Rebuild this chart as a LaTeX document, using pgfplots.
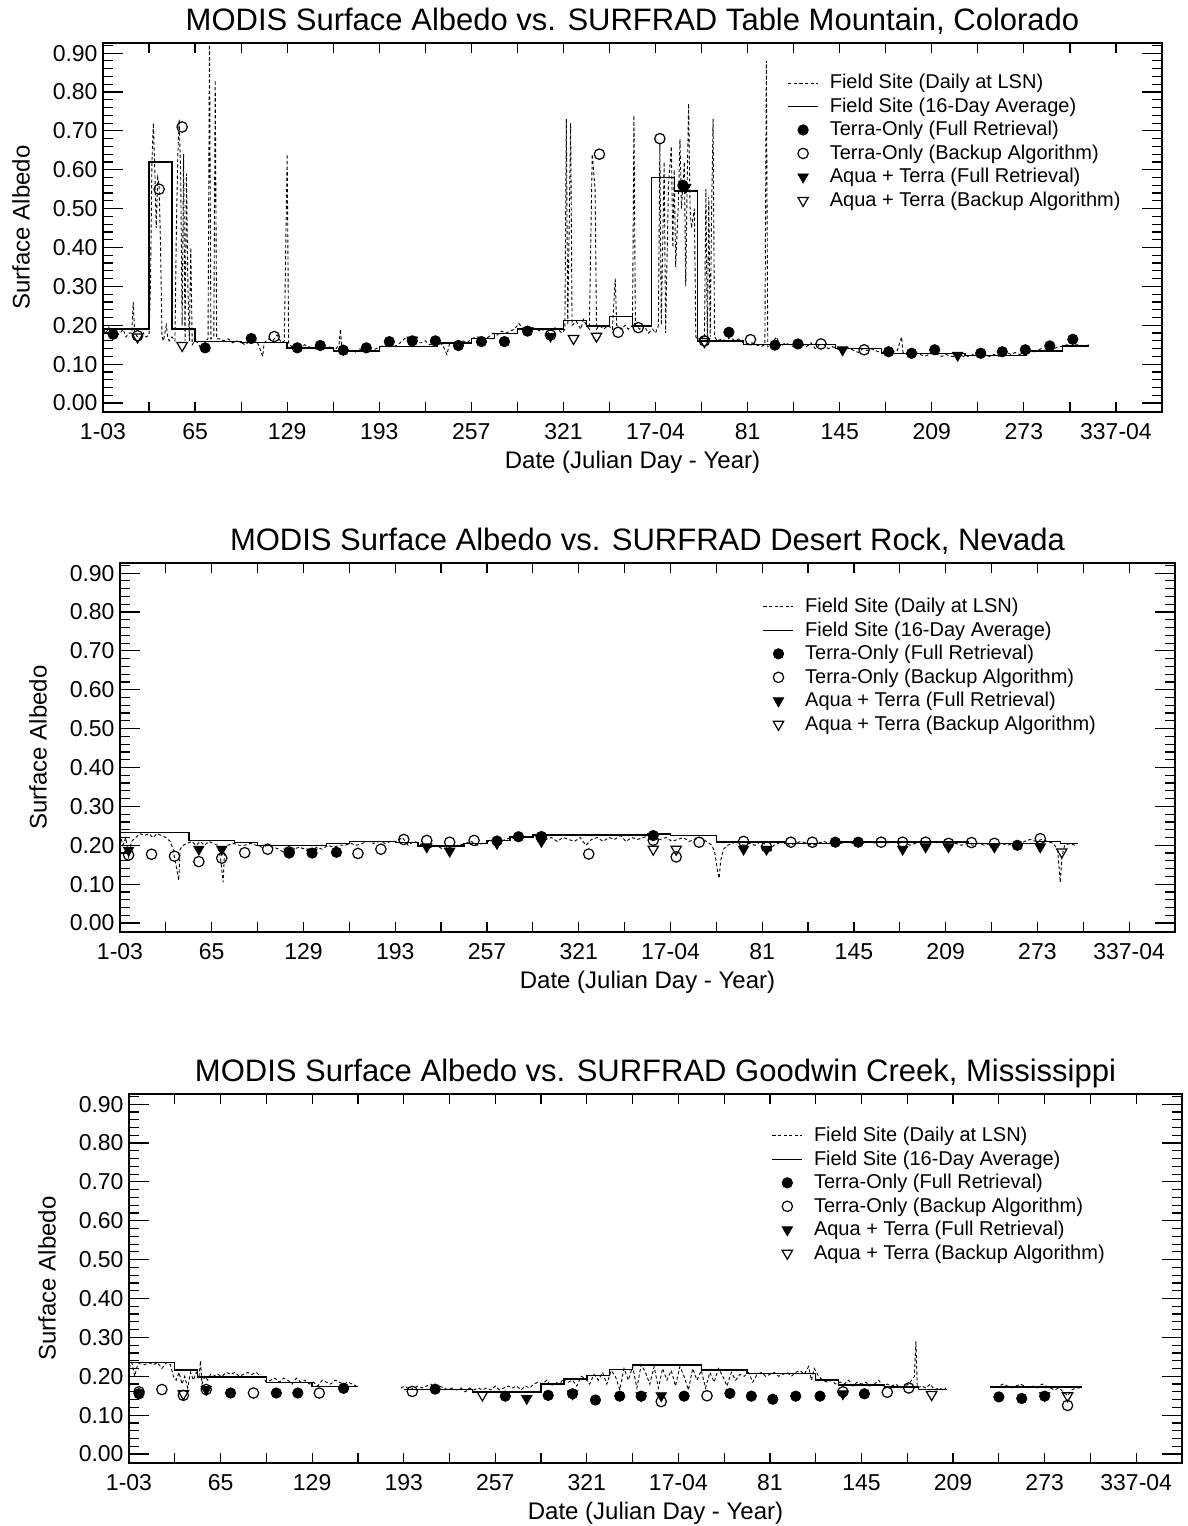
\documentclass[border=0pt]{standalone}
\usepackage{fontspec}
\setmainfont{Liberation Sans}
\usepackage{pgfplots}
\pgfplotsset{compat=1.18}

\pgfplotsset{
  albedo/.style={
    scale only axis, height=184.5pt,
    xmin=1, xmax=737, ymin=-0.023, ymax=0.926,
    axis line style={line width=0.9pt},
    tick align=inside,
    tick style={black, line width=0.6pt},
    major tick length=10pt, minor tick length=5pt,
    xtick={1,65,129,193,257,321,385,449,513,577,641,705},
    xticklabels={1-03,65,129,193,257,321,17-04,81,145,209,273,337-04},
    major x tick style={draw=none},
    minor xtick={1,33,65,97,129,161,193,225,257,289,321,353,385,417,449,481,513,545,577,609,641,673,705,737},
    ytick={0,0.1,0.2,0.3,0.4,0.5,0.6,0.7,0.8,0.9},
    yticklabels={0.00,0.10,0.20,0.30,0.40,0.50,0.60,0.70,0.80,0.90},
    minor ytick={0.02,0.04,0.06,0.08,0.12,0.14,0.16,0.18,0.22,0.24,0.26,0.28,0.32,0.34,0.36,0.38,0.42,0.44,0.46,0.48,0.52,0.54,0.56,0.58,0.62,0.64,0.66,0.68,0.72,0.74,0.76,0.78,0.82,0.84,0.86,0.88,0.92},
    ticklabel style={font=\fontsize{11.5}{13}\selectfont},
    x tick label style={yshift=-2.4pt},
    y tick label style={xshift=0.8pt},
    title style={font=\fontsize{15.5}{18}\selectfont, at={(axis description cs:0.5,1)}, anchor=base, yshift=0.5pt},
    label style={font=\fontsize{12}{14}\selectfont},
    xlabel={Date (Julian Day - Year)},
    ylabel={Surface Albedo},
    xlabel style={at={(axis description cs:0.5,0)}, anchor=base, yshift=-28pt},
    unbounded coords=jump,
    legend cell align=left,
    legend image code/.code={\draw[mark repeat=2,mark phase=2,#1] plot coordinates {(0pt,0pt) (7.5pt,0pt) (15pt,0pt)};},
    legend style={draw=none, fill=none, anchor=north west, inner sep=1pt, column sep=4pt,
      nodes={inner sep=1.5pt}, font=\fontsize{10}{12}\selectfont},
  },
  daily/.style={black, line width=0.45pt, dash pattern=on 1.6pt off 1.2pt},
  avg/.style={black, line width=0.7pt, const plot},
  tf/.style={only marks, mark=*, mark size=2.6pt, black},
  tb/.style={only marks, mark=o, mark size=2.6pt, black, mark options={line width=0.6pt}},
  af/.style={only marks, mark=triangle*, mark size=3pt, black, mark options={rotate=180}},
  ab/.style={only marks, mark=triangle, mark size=3pt, black, mark options={rotate=180, line width=0.6pt}},
}

\begin{document}
\begin{tikzpicture}
\path[use as bounding box] (0,0) rectangle (594pt,-763pt);

% ---------------- Table Mountain ----------------
\begin{axis}[albedo, at={(51.5pt,-21.5pt)}, anchor=north west, width=529.5pt,
  title={MODIS Surface Albedo vs. SURFRAD Table Mountain, Colorado},
  ylabel style={at={(axis description cs:-0.0774,0.5)}, anchor=center},
  legend style={at={(0.644,0.930)}}]
\addplot[daily] coordinates {
(1,0.19) (3,0.18) (5,0.195) (7,0.18) (9,0.19) (11,0.175) (13,0.18) (15,0.19) (17,0.17) (19,0.18)
(21,0.18) (22,0.26) (23,0.18) (25,0.17) (27,0.165) (29,0.18) (31,0.17) (33,0.175)
(34,0.30) (35,0.62) (36,0.72) (37,0.60) (38,0.45) (39,0.58) (40,0.56) (41,0.40) (42,0.17) (43,0.16)
(45,0.20) (46,0.17) (47,0.16) (49,0.17) (51,0.16) (52,0.45) (53,0.64) (54,0.73) (55,0.58) (56,0.20)
(57,0.64) (58,0.16) (59,0.59) (60,0.30) (61,0.16) (62,0.40) (63,0.15) (65,0.16) (67,0.155) (69,0.14)
(71,0.13) (72,0.16) (74,0.165) (75,0.95) (76,0.165) (78,0.17) (79,0.83) (80,0.165) (82,0.165) (85,0.16)
(88,0.165) (91,0.155) (94,0.16) (97,0.155) (100,0.15) (103,0.16) (106,0.17) (109,0.15) (112,0.12) (113,0.155)
(116,0.165) (119,0.16) (122,0.175) (125,0.155) (127,0.16) (128,0.40) (129,0.64) (130,0.155) (132,0.145) (135,0.15)
(138,0.14) (141,0.15) (144,0.145) (147,0.14) (150,0.14) (153,0.15) (156,0.14) (159,0.145) (162,0.135) (165,0.15)
(166,0.19) (167,0.14) (170,0.13) (173,0.135) (176,0.13) (179,0.14) (182,0.135) (185,0.14) (188,0.135) (191,0.14)
(194,0.145) (197,0.15) (200,0.155) (203,0.145) (206,0.15) (209,0.16) (212,0.17) (214,0.15) (216,0.165) (219,0.155)
(222,0.155) (225,0.16) (228,0.15) (231,0.155) (234,0.155) (237,0.15) (240,0.125) (242,0.155) (245,0.155) (248,0.16)
(251,0.16) (254,0.155) (257,0.165) (260,0.17) (263,0.17) (266,0.165) (269,0.17) (272,0.18) (275,0.175) (278,0.185)
(281,0.18) (284,0.185) (287,0.19) (290,0.205) (293,0.19) (296,0.19) (299,0.195) (302,0.19) (305,0.185) (308,0.19)
(311,0.18) (314,0.195) (317,0.19) (320,0.18) (322,0.19) (323,0.73) (324,0.20) (326,0.72) (327,0.20) (330,0.21)
(333,0.19) (335,0.215) (337,0.20) (339,0.19) (341,0.64) (343,0.55) (344,0.19) (346,0.20) (349,0.19) (352,0.20)
(355,0.19) (357,0.32) (358,0.20) (361,0.19) (364,0.20) (366,0.19) (369,0.20) (370,0.74) (371,0.20) (374,0.19)
(377,0.20) (380,0.18) (383,0.19) (385,0.18) (387,0.20) (388,0.67) (389,0.20) (391,0.62) (392,0.18) (394,0.56)
(396,0.66) (397,0.40) (398,0.60) (399,0.35) (401,0.53) (402,0.68) (403,0.50) (405,0.62) (406,0.30) (407,0.57)
(408,0.77) (409,0.50) (410,0.45) (412,0.50) (413,0.17) (415,0.16) (417,0.17) (419,0.165) (420,0.55) (421,0.16)
(422,0.53) (423,0.17) (424,0.50) (425,0.73) (426,0.17) (428,0.16) (431,0.165) (434,0.16) (437,0.17) (440,0.16)
(443,0.165) (446,0.155) (449,0.15) (452,0.155) (455,0.15) (458,0.145) (461,0.15) (462,0.88) (463,0.145) (466,0.155)
(469,0.17) (472,0.145) (475,0.155) (478,0.15) (481,0.145) (484,0.155) (487,0.15) (490,0.145) (493,0.155) (496,0.14)
(499,0.15) (502,0.15) (505,0.14) (508,0.145) (511,0.14) (514,0.135) (517,0.145) (520,0.14) (523,0.135) (526,0.13)
(529,0.14) (532,0.135) (535,0.14) (538,0.135) (541,0.13) (544,0.13) (547,0.125) (550,0.13) (553,0.135) (556,0.17)
(557,0.13) (560,0.125) (563,0.12) (566,0.13) (569,0.125) (572,0.12) (575,0.125) (578,0.13) (581,0.125) (584,0.12)
(587,0.125) (590,0.12) (593,0.12) (596,0.125) (599,0.12) (602,0.12) (605,0.125) (608,0.12) (611,0.12) (614,0.125)
(617,0.12) (620,0.125) (623,0.12) (626,0.125) (629,0.13) (632,0.125) (635,0.13) (638,0.125) (641,0.13) (644,0.135)
(647,0.13) (650,0.135) (653,0.14) (656,0.135) (659,0.14) (662,0.14) (665,0.145) (668,0.145) (671,0.15) (674,0.145)
(677,0.15) (680,0.15) (683,0.145) (686,0.15)};
\addplot[avg] coordinates {
(1,0.19) (33,0.62) (49,0.19) (65,0.158) (97,0.155) (129,0.142) (161,0.134) (193,0.145) (233,0.154) (257,0.166)
(273,0.179) (289,0.19) (321,0.213) (337,0.198) (353,0.222) (369,0.198) (382,0.58) (398,0.545) (414,0.16) (446,0.151)
(510,0.141) (542,0.128) (600,0.122) (643,0.134) (668,0.147) (686,0.147)};
\addplot[tf] coordinates {
(8,0.177) (72,0.142) (104,0.166) (136,0.142) (152,0.148) (168,0.136) (184,0.142) (200,0.158) (216,0.160) (232,0.160)
(248,0.148) (264,0.158) (280,0.158) (296,0.185) (404,0.56) (436,0.182) (468,0.149) (484,0.152) (547,0.132) (563,0.128)
(579,0.137) (611,0.128) (626,0.132) (642,0.137) (659,0.147) (675,0.164)};
\addplot[tb] coordinates {
(25,0.173) (40,0.55) (56,0.71) (120,0.171) (312,0.175) (346,0.64) (359,0.182) (373,0.194) (388,0.68) (419,0.16)
(451,0.163) (500,0.152) (530,0.137)};
\addplot[af] coordinates {
(216,0.162) (312,0.172) (406,0.555) (515,0.137) (595,0.123)};
\addplot[ab] coordinates {
(25,0.170) (56,0.148) (328,0.166) (344,0.172) (419,0.158)};
\legend{Field Site (Daily at LSN),Field Site (16-Day Average),Terra-Only (Full Retrieval),Terra-Only (Backup Algorithm),Aqua + Terra (Full Retrieval),Aqua + Terra (Backup Algorithm)}
\end{axis}

% ---------------- Desert Rock ----------------
\begin{axis}[albedo, at={(60pt,-281.5pt)}, anchor=north west, width=527.5pt,
  title={MODIS Surface Albedo vs. SURFRAD Desert Rock, Nevada},
  ylabel style={at={(axis description cs:-0.0777,0.5)}, anchor=center},
  legend style={at={(0.607,0.9195)}}]
\addplot[daily] coordinates {
(1,0.23) (3,0.20) (5,0.22) (7,0.17) (9,0.21) (12,0.22) (15,0.23) (18,0.225) (21,0.23) (24,0.22)
(27,0.23) (30,0.225) (33,0.22) (36,0.21) (38,0.19) (40,0.15) (42,0.11) (43,0.19) (45,0.20) (48,0.205)
(51,0.21) (54,0.20) (57,0.21) (60,0.20) (63,0.21) (66,0.205) (69,0.20) (71,0.17) (73,0.105) (74,0.19)
(76,0.20) (80,0.205) (84,0.20) (88,0.20) (92,0.205) (96,0.20) (100,0.195) (104,0.20) (108,0.195) (112,0.19)
(116,0.18) (119,0.17) (122,0.19) (126,0.195) (130,0.19) (134,0.18) (138,0.195) (142,0.19) (146,0.20) (150,0.195)
(154,0.20) (158,0.20) (162,0.205) (166,0.20) (170,0.205) (174,0.21) (178,0.205) (182,0.21) (186,0.205) (190,0.21)
(194,0.21) (198,0.22) (202,0.20) (206,0.21) (210,0.205) (214,0.19) (218,0.195) (222,0.20) (226,0.19) (230,0.195)
(234,0.20) (238,0.20) (242,0.205) (246,0.21) (250,0.20) (254,0.205) (258,0.21) (262,0.215) (266,0.21) (270,0.215)
(274,0.22) (278,0.215) (282,0.22) (286,0.22) (290,0.225) (294,0.22) (298,0.215) (302,0.22) (306,0.21) (310,0.22)
(314,0.215) (318,0.21) (322,0.22) (326,0.20) (330,0.215) (334,0.22) (338,0.21) (342,0.22) (346,0.215) (350,0.225)
(354,0.21) (358,0.22) (362,0.215) (366,0.22) (370,0.225) (374,0.22) (378,0.215) (382,0.22) (386,0.21) (390,0.215)
(394,0.22) (398,0.21) (402,0.215) (406,0.22) (410,0.21) (414,0.20) (416,0.18) (418,0.13) (419,0.115) (420,0.16)
(422,0.19) (425,0.20) (428,0.205) (432,0.21) (436,0.20) (440,0.205) (444,0.20) (448,0.21) (452,0.20) (455,0.185)
(457,0.20) (460,0.205) (464,0.21) (468,0.20) (472,0.205) (476,0.21) (480,0.205) (484,0.20) (488,0.205) (492,0.21)
(496,0.205) (500,0.21) (504,0.205) (508,0.21) (512,0.205) (516,0.21) (520,0.205) (524,0.21) (528,0.205) (532,0.21)
(536,0.205) (540,0.21) (544,0.205) (548,0.21) (552,0.20) (556,0.205) (560,0.21) (564,0.205) (568,0.21) (572,0.205)
(576,0.21) (580,0.20) (584,0.205) (588,0.20) (592,0.205) (596,0.20) (600,0.205) (604,0.20) (608,0.205) (612,0.20)
(616,0.205) (620,0.20) (624,0.205) (628,0.20) (632,0.21) (636,0.215) (640,0.21) (644,0.215) (648,0.21) (652,0.205)
(655,0.19) (657,0.105) (658,0.17) (660,0.20) (664,0.205) (667,0.20)};
\addplot[avg] coordinates {
(1,0.233) (49,0.2125) (81,0.207) (97,0.20) (145,0.204) (161,0.21) (193,0.207) (209,0.198) (241,0.204) (257,0.2125)
(273,0.221) (289,0.227) (369,0.229) (385,0.225) (417,0.208) (465,0.204) (497,0.208) (593,0.204) (641,0.21) (657,0.204)
(669,0.204)};
\addplot[tf] coordinates {
(119,0.18) (135,0.18) (152,0.182) (264,0.211) (279,0.222) (295,0.22) (373,0.225) (500,0.208) (516,0.208) (627,0.20)};
\addplot[tb] coordinates {
(7,0.175) (23,0.177) (39,0.172) (56,0.158) (72,0.167) (88,0.181) (104,0.19) (119,0.183) (167,0.179) (183,0.19)
(199,0.215) (215,0.2125) (231,0.208) (248,0.2125) (295,0.222) (328,0.1775) (373,0.213) (389,0.17) (405,0.208) (436,0.21)
(452,0.196) (469,0.208) (484,0.208) (532,0.208) (547,0.208) (563,0.208) (579,0.205) (595,0.207) (611,0.205) (643,0.217)};
\addplot[af] coordinates {
(7,0.1875) (56,0.19) (72,0.19) (119,0.183) (135,0.183) (215,0.196) (231,0.185) (264,0.205) (295,0.21) (436,0.19)
(452,0.19) (547,0.19) (563,0.196) (579,0.196) (611,0.196) (643,0.196)};
\addplot[ab] coordinates {
(373,0.19) (389,0.19) (658,0.183)};
\legend{Field Site (Daily at LSN),Field Site (16-Day Average),Terra-Only (Full Retrieval),Terra-Only (Backup Algorithm),Aqua + Terra (Full Retrieval),Aqua + Terra (Backup Algorithm)}
\end{axis}

% ---------------- Goodwin Creek ----------------
\begin{axis}[albedo, at={(64.5pt,-547pt)}, anchor=north west, width=526.5pt,
  title={MODIS Surface Albedo vs. SURFRAD Goodwin Creek, Mississippi},
  ylabel style={at={(axis description cs:-0.0779,0.5)}, anchor=center},
  legend style={at={(0.608,0.925)}}]
\addplot[daily] coordinates {
(1,0.22) (3,0.235) (5,0.20) (7,0.23) (9,0.235) (12,0.23) (15,0.235) (18,0.23) (21,0.235) (24,0.22)
(27,0.235) (30,0.23) (32,0.20) (34,0.19) (36,0.21) (38,0.18) (40,0.20) (42,0.17) (44,0.21) (46,0.19)
(48,0.21) (50,0.20) (51,0.24) (52,0.18) (54,0.20) (56,0.19) (58,0.205) (60,0.20) (63,0.205) (66,0.20)
(69,0.21) (72,0.205) (75,0.21) (78,0.20) (81,0.205) (84,0.21) (87,0.205) (90,0.21) (93,0.20) (95,0.195)
(97,0.185) (100,0.19) (103,0.195) (106,0.185) (109,0.195) (112,0.19) (115,0.18) (118,0.195) (121,0.185) (124,0.19)
(127,0.18) (130,0.185) (133,0.175) (136,0.19) (139,0.185) (142,0.18) (145,0.19) (148,0.185) (151,0.18) (154,0.185)
(157,0.18) (160,0.175) (175,nan)
(191,0.17) (194,0.175) (197,0.165) (200,0.17) (203,0.175) (206,0.17) (209,0.175) (212,0.18) (215,0.17) (218,0.175)
(221,0.17) (224,0.165) (227,0.17) (230,0.165) (233,0.17) (236,0.16) (239,0.17) (242,0.165) (245,0.17) (248,0.165)
(251,0.17) (254,0.165) (257,0.175) (260,0.165) (263,0.17) (266,0.175) (269,0.17) (272,0.175) (275,0.165) (278,0.175)
(281,0.17) (284,0.18) (287,0.185) (290,0.18) (293,0.19) (296,0.175) (299,0.185) (302,0.18) (305,0.195) (308,0.185)
(311,0.19) (314,0.175) (317,0.20) (320,0.195) (323,0.18) (326,0.205) (329,0.19) (332,0.21) (335,0.18) (338,0.215)
(341,0.20) (344,0.165) (347,0.22) (350,0.19) (353,0.225) (356,0.17) (359,0.23) (362,0.21) (365,0.18) (368,0.225)
(371,0.17) (374,0.22) (377,0.19) (380,0.215) (383,0.175) (386,0.225) (389,0.20) (392,0.165) (395,0.22) (398,0.19)
(401,0.215) (404,0.17) (407,0.21) (410,0.185) (413,0.22) (416,0.20) (419,0.175) (422,0.21) (425,0.19) (428,0.205)
(431,0.20) (434,0.21) (437,0.185) (440,0.205) (443,0.21) (446,0.20) (449,0.205) (452,0.21) (455,0.20) (458,0.205)
(461,0.21) (464,0.20) (467,0.21) (470,0.215) (473,0.205) (476,0.225) (478,0.19) (480,0.22) (483,0.20) (486,0.19)
(489,0.185) (492,0.19) (495,0.18) (498,0.185) (501,0.18) (504,0.19) (507,0.175) (510,0.185) (513,0.18) (516,0.185)
(519,0.175) (522,0.18) (525,0.19) (528,0.175) (531,0.18) (534,0.175) (537,0.18) (540,0.17) (543,0.175) (546,0.18)
(548,0.19) (550,0.20) (551,0.29) (552,0.17) (555,0.175) (558,0.17) (561,0.18) (564,0.165) (567,0.17) (570,0.165)
(572,0.17) (585,nan)
(603,0.175) (606,0.17) (609,0.175) (612,0.18) (615,0.175) (618,0.17) (621,0.175) (624,0.18) (627,0.175) (630,0.17)
(633,0.175) (636,0.17) (639,0.18) (642,0.175) (645,0.17) (648,0.165) (651,0.17) (654,0.16) (657,0.15) (660,0.165)
(663,0.17) (666,0.17)};
\addplot[avg] coordinates {
(1,0.235) (33,0.216) (49,0.198) (97,0.184) (129,0.174) (161,0.174) (175,nan)
(193,0.166) (241,0.16) (289,0.18) (305,0.193) (321,0.202) (337,0.218) (353,0.229) (401,0.216) (433,0.207) (481,0.19)
(497,0.178) (529,0.172) (553,0.166) (573,0.166) (585,nan)
(603,0.172) (667,0.172)};
\addplot[tf] coordinates {
(8,0.155) (72,0.157) (104,0.157) (119,0.157) (151,0.169) (215,0.167) (264,0.149) (294,0.151) (311,0.155) (327,0.139)
(344,0.149) (359,0.149) (389,0.149) (421,0.156) (436,0.149) (451,0.141) (467,0.149) (484,0.149) (515,0.155) (609,0.147)
(625,0.143) (641,0.149)};
\addplot[tb] coordinates {
(8,0.16) (24,0.166) (39,0.151) (55,0.166) (88,0.157) (134,0.157) (199,0.161) (373,0.135) (405,0.15) (500,0.16)
(531,0.159) (546,0.17) (657,0.125)};
\addplot[af] coordinates {
(55,0.166) (279,0.143) (311,0.155) (359,0.15) (373,0.15) (500,0.155) (641,0.15)};
\addplot[ab] coordinates {
(39,0.155) (248,0.152) (562,0.153) (657,0.15)};
\legend{Field Site (Daily at LSN),Field Site (16-Day Average),Terra-Only (Full Retrieval),Terra-Only (Backup Algorithm),Aqua + Terra (Full Retrieval),Aqua + Terra (Backup Algorithm)}
\end{axis}
\end{tikzpicture}
\end{document}
